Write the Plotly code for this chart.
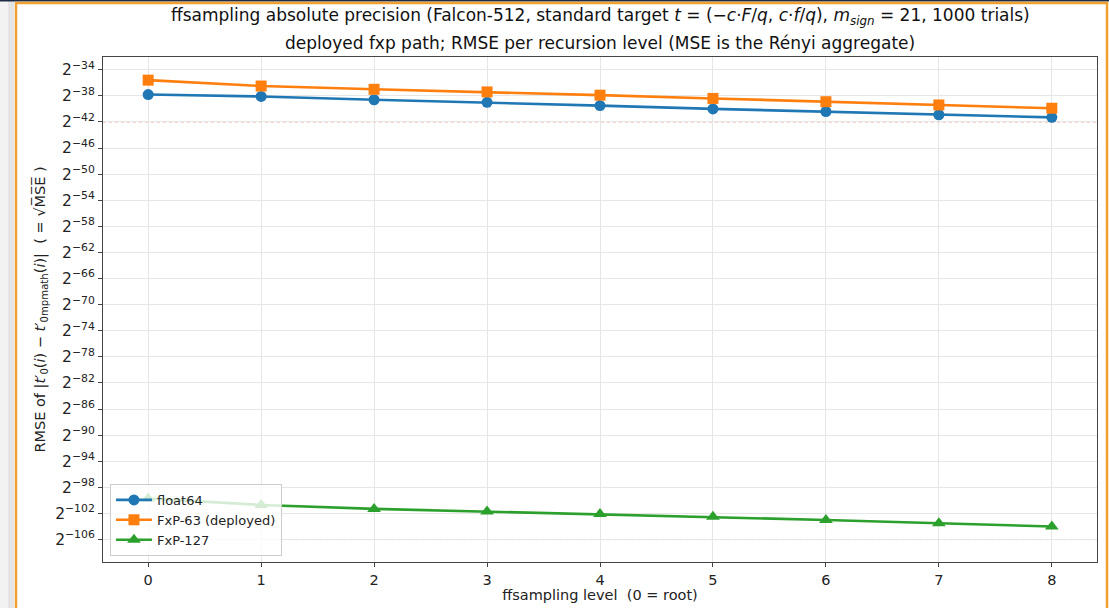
import plotly.graph_objects as go

levels = [0, 1, 2, 3, 4, 5, 6, 7, 8]
float64_log2 = [-37.8, -38.1, -38.6, -39.0, -39.5, -40.0, -40.4, -40.9, -41.3]
fxp63_log2 = [-35.6, -36.5, -37.0, -37.4, -37.9, -38.4, -38.9, -39.4, -39.9]
fxp127_log2 = [-99.7, -100.7, -101.3, -101.7, -102.1, -102.5, -103.0, -103.5, -104.0]
ref_log2 = [-42, -106]
ytick_exps = list(range(-34, -107, -4))

names = ["float64", "FxP-63 (deployed)", "FxP-127"]
colors = ["#1f77b4", "#ff7f0e", "#2ca02c"]
symbols = ["circle", "square", "triangle-up"]
ref_colors = ["rgba(236,120,80,0.75)", "rgba(44,160,44,0.75)"]

FONT = "DejaVu Sans"
L, R, T, B = 103, 12, 57, 46
W, H = 1109, 608
PW, PH = W - L - R, H - T - B


def px_x(p):
    return (p - L) / PW


def px_y(p):
    return (H - B - p) / PH


fig = go.Figure()
for name, vals, col, sym in zip(names, [float64_log2, fxp63_log2, fxp127_log2], colors, symbols):
    fig.add_trace(go.Scatter(
        x=levels, y=[2.0 ** v for v in vals], name=name, mode="lines+markers",
        line=dict(color=col, width=2.6),
        marker=dict(symbol=sym, size=11 if sym != "triangle-up" else 12, color=col),
    ))

for r, c in zip(ref_log2, ref_colors):
    fig.add_hline(y=2.0 ** r, line=dict(color=c, width=1, dash="dot"), layer="below")

title1 = ("ffsampling absolute precision (Falcon-512, standard target <i>t</i> = (−<i>c</i>·<i>F</i>/<i>q</i>, "
          "<i>c</i>·<i>f</i>/<i>q</i>), <i>m<sub>sign</sub></i> = 21, 1000 trials)")
title2 = "deployed fxp path; RMSE per recursion level (MSE is the Rényi aggregate)"

fig.update_layout(
    width=W, height=H,
    margin=dict(l=L, r=R, t=T, b=B),
    paper_bgcolor="white", plot_bgcolor="white",
    font=dict(family=FONT, size=13, color="#222"),
    legend=dict(x=0.007, y=0.012, xanchor="left", yanchor="bottom",
                bgcolor="rgba(255,255,255,0.8)", bordercolor="#cccccc", borderwidth=1,
                font=dict(family=FONT, size=13, color="#222"), tracegroupgap=0,
                itemwidth=36),
    showlegend=True,
)
fig.add_annotation(text=title1, xref="paper", yref="paper", x=px_x(600), y=px_y(17),
                   xanchor="center", yanchor="middle", showarrow=False,
                   font=dict(family=FONT, size=17, color="#111"))
fig.add_annotation(text=title2, xref="paper", yref="paper", x=px_x(600), y=px_y(43),
                   xanchor="center", yanchor="middle", showarrow=False,
                   font=dict(family=FONT, size=17, color="#111"))

fig.update_xaxes(
    range=[-0.4, 8.4], tickvals=levels, ticktext=[str(v) for v in levels],
    showgrid=True, gridcolor="#e6e6e6", gridwidth=1, automargin=False,
    showline=True, linecolor="#444", linewidth=1.2, mirror=True,
    ticks="outside", ticklen=4, tickcolor="#444", zeroline=False,
    tickfont=dict(family=FONT, size=14.5, color="#222"),
    title=dict(text="ffsampling level  (0 = root)", font=dict(family=FONT, size=14.5, color="#222"), standoff=2),
)
fig.update_yaxes(
    type="log", range=[-109.44 * 0.30103, -32.05 * 0.30103],
    tickvals=[2.0 ** e for e in ytick_exps],
    ticktext=["2<sup>−%d</sup>" % (-e) for e in ytick_exps],
    showgrid=True, gridcolor="#e6e6e6", gridwidth=1, automargin=False,
    showline=True, linecolor="#444", linewidth=1.2, mirror=True,
    ticks="outside", ticklen=4, tickcolor="#444", zeroline=False,
    tickfont=dict(family=FONT, size=15.5, color="#222"),
    title=dict(text="RMSE of |<i>t</i>′<sub>0</sub>(<i>i</i>) − <i>t</i>′<sub>0mpmath</sub>(<i>i</i>)|  ( = √M̅S̅E̅ )",
               font=dict(family=FONT, size=14.5, color="#222"), standoff=6),
)

# decorative frame / shadow around the figure
fig.add_shape(type="rect", xref="paper", yref="paper",
              x0=px_x(0), x1=px_x(14), y0=px_y(620), y1=px_y(0),
              fillcolor="rgba(0,0,0,0.05)", line=dict(width=0), layer="above")
fig.add_shape(type="rect", xref="paper", yref="paper",
              x0=px_x(8), x1=px_x(14), y0=px_y(620), y1=px_y(0),
              fillcolor="rgba(0,0,0,0.05)", line=dict(width=0), layer="above")
fig.add_shape(type="rect", xref="paper", yref="paper",
              x0=px_x(0), x1=px_x(W), y0=px_y(1.5), y1=px_y(0),
              fillcolor="#1f2a44", line=dict(width=0), layer="above")
fig.add_shape(type="rect", xref="paper", yref="paper",
              x0=px_x(16), x1=px_x(1107), y0=px_y(620), y1=px_y(3),
              line=dict(color="#f0a030", width=2.5), layer="above")

fig.write_html("out.html", config={"displayModeBar": False},
               post_script="document.body.style.margin='0';document.body.style.overflow='hidden';")
